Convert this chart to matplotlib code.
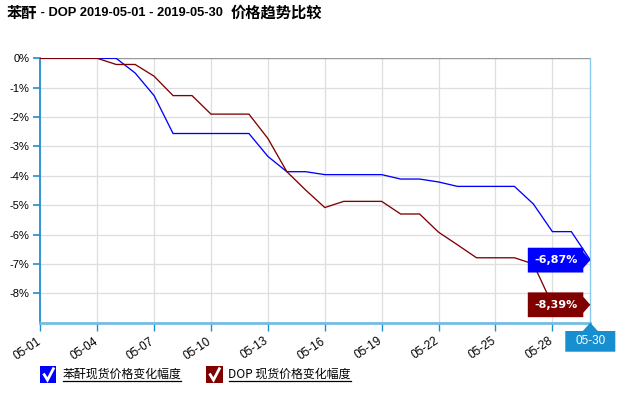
import matplotlib
matplotlib.use("Agg")
import matplotlib.pyplot as plt
from matplotlib.patches import Polygon, Rectangle
from matplotlib.lines import Line2D
from matplotlib.transforms import ScaledTranslation

# ---------------- data ----------------
dates = ["05-01", "05-02", "05-03", "05-04", "05-05", "05-06", "05-07", "05-08",
         "05-09", "05-10", "05-11", "05-12", "05-13", "05-14", "05-15", "05-16",
         "05-17", "05-18", "05-19", "05-20", "05-21", "05-22", "05-23", "05-24",
         "05-25", "05-26", "05-27", "05-28", "05-29", "05-30"]
pa_change = [0, 0, 0, 0, 0, -0.50, -1.27, -2.56, -2.56, -2.56, -2.56, -2.56,
             -3.34, -3.86, -3.86, -3.96, -3.96, -3.96, -3.96, -4.11, -4.11,
             -4.21, -4.36, -4.36, -4.36, -4.36, -4.96, -5.90, -5.90, -6.87]
dop_change = [0, 0, 0, 0, -0.21, -0.21, -0.61, -1.27, -1.27, -1.90, -1.90, -1.90,
              -2.73, -3.86, -4.49, -5.08, -4.87, -4.87, -4.87, -5.30, -5.30,
              -5.92, -6.35, -6.79, -6.79, -6.79, -7.00, -8.39, -8.39, -8.39]
y_ticks = [0, -1, -2, -3, -4, -5, -6, -7, -8]
y_tick_labels = ["0%", "-1%", "-2%", "-3%", "-4%", "-5%", "-6%", "-7%", "-8%"]
x_tick_every = 3
series_names = ["苯酐现货价格变化幅度", "DOP 现货价格变化幅度"]
title_parts = ["苯酐", " - DOP 2019-05-01 - 2019-05-30 ", "价格趋势比较"]

BLUE = "#0000FF"
RED = "#800000"
AXBLUE = "#1E8FD2"
LIGHTBLUE = "#74BCE4"

W, H = 623, 394
fig = plt.figure(figsize=(W / 100, H / 100), dpi=100)
fig.patch.set_facecolor("white")

L, R, T, B = 40.3, 590.3, 58.3, 322.7
ax = fig.add_axes([L / W, 1 - B / H, (R - L) / W, (B - T) / H])
ax.set_facecolor("white")

xs = list(range(1, len(dates) + 1))
ax.set_xlim(1, len(dates))
ax.set_ylim(-9.0, 0)

# grid
xt = xs[::x_tick_every]
for x in xt[1:]:
    ax.axvline(x, color="#dedede", lw=0.9, zorder=1)
for y in y_ticks[1:]:
    ax.axhline(y, color="#dedede", lw=0.9, zorder=1)
ax.axhline(0, color="#999999", lw=1.0, zorder=1)

ax.plot(xs, pa_change, color=BLUE, lw=0.95, zorder=3, solid_joinstyle="miter")
ax.plot(xs, dop_change, color=RED, lw=0.95, zorder=3, solid_joinstyle="miter")

# spines
ax.spines["top"].set_visible(False)
ax.spines["left"].set_color(AXBLUE)
ax.spines["left"].set_linewidth(1.3)
ax.spines["bottom"].set_color(LIGHTBLUE)
ax.spines["bottom"].set_linewidth(2.0)
ax.spines["right"].set_color("#8CC8EC")
ax.spines["right"].set_linewidth(1.0)

ax.set_yticks(y_ticks)
ax.set_yticklabels(y_tick_labels, fontsize=8, family="Liberation Sans")
ax.tick_params(axis="y", direction="out", length=5, width=1.2, color=AXBLUE, pad=3)

ax.set_xticks(xt)
ax.set_xticklabels([dates[i - 1] for i in xt], fontsize=8.5, family="Liberation Sans",
                   rotation=34, ha="right", va="top", rotation_mode="anchor")
ax.tick_params(axis="x", direction="out", length=5.5, width=1.0, color=AXBLUE, pad=2)
shift = ScaledTranslation(-4 / 100, -2 / 100, fig.dpi_scale_trans)
for lab in ax.get_xticklabels():
    lab.set_transform(lab.get_transform() + shift)

# end-value labels
def end_label(value, color):
    px = 1 / 100.0
    trans = fig.dpi_scale_trans + ScaledTranslation(len(dates), value, ax.transData)
    verts = [(0, 0), (-7 * px, 8 * px), (-7 * px, 12.4 * px), (-62.5 * px, 12.4 * px),
             (-62.5 * px, -12.4 * px), (-7 * px, -12.4 * px), (-7 * px, -8 * px)]
    ax.add_patch(Polygon(verts, closed=True, transform=trans, facecolor=color,
                         edgecolor="none", zorder=5, clip_on=False))
    txt = ("%.2f%%" % value).replace(".", ",")
    ax.text(-34.5 * px, 0, txt, transform=trans, color="white", fontsize=8,
            fontweight="bold", family="DejaVu Sans", ha="center", va="center", zorder=6)

end_label(pa_change[-1], BLUE)
end_label(dop_change[-1], RED)

# last date box under the axis
px = 1 / 100.0
tr = fig.dpi_scale_trans + ScaledTranslation(len(dates), 0, ax.get_xaxis_transform())
verts = [(0, 0), (7.5 * px, -8.3 * px), (25 * px, -8.3 * px), (25 * px, -29 * px),
         (-25 * px, -29 * px), (-25 * px, -8.3 * px), (-7.5 * px, -8.3 * px)]
ax.add_patch(Polygon(verts, closed=True, transform=tr, facecolor="#168ED0",
                     edgecolor="none", zorder=6, clip_on=False))
ax.text(0, -18.8 * px, dates[-1], transform=tr, color="white", fontsize=8.5,
        family="Liberation Sans", ha="center", va="center", zorder=7)

# title
def fx(x):
    return x / W

def fy(y):
    return 1 - y / H

fig.text(fx(7), fy(13), title_parts[0], fontsize=11, fontweight="bold",
         family=["Noto Sans CJK SC"], va="center", ha="left")
fig.text(fx(37), fy(13.5), title_parts[1], fontsize=9.3, fontweight="bold",
         family=["Liberation Sans"], va="center", ha="left")
fig.text(fx(231), fy(13), title_parts[2], fontsize=11, fontweight="bold",
         family=["Noto Sans CJK SC"], va="center", ha="left")

# legend
legend_items = [(40, series_names[0], BLUE), (206, series_names[1], RED)]
texts = []
for x0, name, col in legend_items:
    fig.patches.append(Rectangle((fx(x0), fy(382.7)), 16.5 / W, 16.5 / H,
                                 transform=fig.transFigure, facecolor=col,
                                 edgecolor="none"))
    fig.lines.append(Line2D([fx(x0 + 3.5), fx(x0 + 7.5), fx(x0 + 14)],
                            [fy(373.5), fy(380), fy(367.5)],
                            transform=fig.transFigure, color="white", lw=2.0,
                            solid_capstyle="butt", solid_joinstyle="miter"))
    t = fig.text(fx(x0 + 22.5), fy(374), name, fontsize=8.6,
                 family=["Noto Sans CJK SC", "DejaVu Sans"], va="center", ha="left")
    texts.append(t)

fig.canvas.draw()
r = fig.canvas.get_renderer()
for t in texts:
    bb = t.get_window_extent(r)
    fig.lines.append(Line2D([bb.x0 / W, bb.x1 / W], [fy(381), fy(381)],
                            transform=fig.transFigure, color="black", lw=0.9))

fig.savefig("out.png", dpi=100, facecolor="white")
